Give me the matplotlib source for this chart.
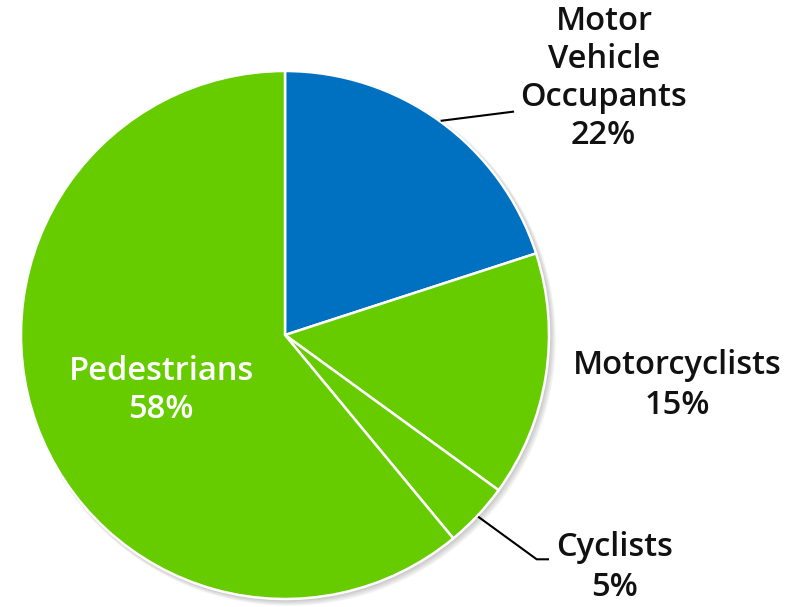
import matplotlib
matplotlib.use("Agg")
import matplotlib.pyplot as plt
from matplotlib.patches import Circle

# Data
categories = ["Motor\nVehicle\nOccupants", "Motorcyclists", "Cyclists", "Pedestrians"]
values = [20.0, 15.0, 4.0, 61.0]          # slice sizes as drawn
pct_labels = ["22%", "15%", "5%", "58%"]   # printed labels
colors = ["#0070C0", "#66CC00", "#66CC00", "#66CC00"]

W, H = 806, 607
fig = plt.figure(figsize=(W / 100, H / 100), dpi=100)
ax = fig.add_axes([0, 0, 1, 1])

cx, cy, r = 285, H - 335, 264

# soft shadow
for i in range(4):
    ax.add_patch(Circle((cx + 1.5 + i * 0.8, cy - 1.5 - i * 0.8), r + 1 + i * 0.6,
                        facecolor="#000000", alpha=0.05, edgecolor="none", zorder=1))

wedges, _ = ax.pie(values, colors=colors, startangle=90, counterclock=False,
                   center=(cx, cy), radius=r, frame=True,
                   wedgeprops=dict(edgecolor="white", linewidth=1.8))
for w in wedges:
    w.set_zorder(2)
ax.set_xlim(0, W)
ax.set_ylim(0, H)
ax.set_aspect("equal")
ax.axis("off")

font = "Open Sans"
fs = 23.5
wt = 600
tc = "#111111"

def Y(py):
    return H - py

def label(x, py, s, color=tc):
    ax.text(x, Y(py), s, ha="center", va="center", fontsize=fs, family=font,
            fontweight=wt, color=color, zorder=5)

# Motor vehicle occupants
for k, line in enumerate(categories[0].split("\n")):
    label(604, 22 + 37.5 * k, line)
label(603, 135, pct_labels[0])
ax.plot([441.7, 513], [Y(120.7), Y(111.7)], color="black", lw=1.5, zorder=4)

# Motorcyclists
label(677, 366, categories[1])
label(677, 406, pct_labels[1])

# Cyclists
label(615, 548, categories[2])
label(615, 587, pct_labels[2])
ax.plot([479, 536.7, 548], [Y(517.3), Y(559.3), Y(559.3)], color="black", lw=1.5, zorder=4)

# Pedestrians
label(161, 372, categories[3], "white")
label(161, 410, pct_labels[3], "white")

fig.savefig("out.png", dpi=100, facecolor="white")
